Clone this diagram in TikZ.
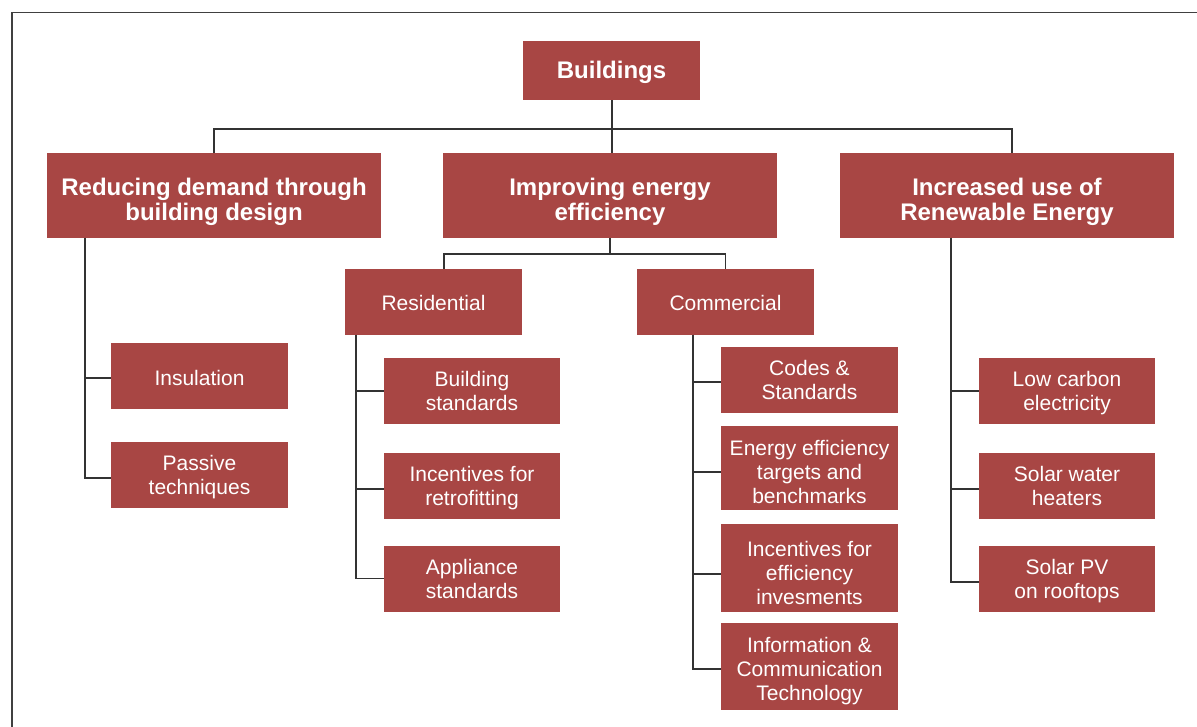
\documentclass[tikz,border=0pt]{standalone}
\usepackage{fontspec}
\setmainfont{Liberation Sans}
\definecolor{boxred}{HTML}{A84644}
\definecolor{linegray}{HTML}{333333}
\newcommand{\tx}[2]{\raisebox{-#1}[\height][\depth]{\begin{tabular}{@{}c@{}}#2\end{tabular}}}
\begin{document}
\begin{tikzpicture}[x=1pt,y=-1pt,
  box/.style={fill=boxred,draw=none,inner sep=0pt,text=white,
    font=\fontsize{21}{24}\selectfont},
  topbox/.style={box,font=\bfseries\fontsize{24}{23.7}\selectfont},
  conn/.style={draw=linegray,line width=1.3pt},
  frame/.style={draw=black!75,line width=1.6pt}]
\useasboundingbox (0,0) rectangle (1197,727);
\draw[frame] (1197,12.5) -- (12,12.5) -- (12,727);
% level 0
\node[topbox,minimum width=177pt,minimum height=59pt] (b0) at (611.5,70.5) {\tx{2.5pt}{Buildings}};
% level 1
\node[topbox,minimum width=334pt,minimum height=85pt] (r1) at (214,195.5) {\tx{7.3pt}{Reducing demand through\\building design}};
\node[topbox,minimum width=334pt,minimum height=85pt] (r2) at (610,195.5) {\tx{7.3pt}{Improving energy\\efficiency}};
\node[topbox,minimum width=334pt,minimum height=85pt] (r3) at (1007,195.5) {\tx{7.3pt}{Increased use of\\Renewable Energy}};
% level 2
\node[box,minimum width=177pt,minimum height=66pt] (res) at (433.5,302) {\tx{4.2pt}{Residential}};
\node[box,minimum width=177pt,minimum height=66pt] (com) at (725.5,302) {\tx{4.2pt}{Commercial}};
% reducing children
\node[box,minimum width=177pt,minimum height=66pt] (ins) at (199.5,376) {\tx{4.2pt}{Insulation}};
\node[box,minimum width=177pt,minimum height=66pt] (pas) at (199.5,475) {\tx{2.9pt}{Passive\\techniques}};
% residential children
\node[box,minimum width=176pt,minimum height=66pt] (bst) at (472,391) {\tx{2.9pt}{Building\\standards}};
\node[box,minimum width=176pt,minimum height=66pt] (inr) at (472,486) {\tx{2.9pt}{Incentives for\\retrofitting}};
\node[box,minimum width=176pt,minimum height=66pt] (app) at (472,578.5) {\tx{2.9pt}{Appliance\\standards}};
% commercial children
\node[box,minimum width=177pt,minimum height=66pt] (cod) at (809.5,380) {\tx{2.9pt}{Codes \&\\Standards}};
\node[box,minimum width=177pt,minimum height=84pt] (eet) at (809.5,468) {\tx{6.5pt}{Energy efficiency\\targets and\\benchmarks}};
\node[box,minimum width=177pt,minimum height=88pt] (ine) at (809.5,568) {\tx{7.9pt}{Incentives for\\efficiency\\invesments}};
\node[box,minimum width=177pt,minimum height=87pt] (ict) at (809.5,666.5) {\tx{5.4pt}{Information \&\\Communication\\Technology}};
% renewable children
\node[box,minimum width=176pt,minimum height=66pt] (lce) at (1067,391) {\tx{2.9pt}{Low carbon\\electricity}};
\node[box,minimum width=176pt,minimum height=66pt] (swh) at (1067,486) {\tx{2.9pt}{Solar water\\heaters}};
\node[box,minimum width=176pt,minimum height=66pt] (spv) at (1067,578.5) {\tx{2.9pt}{Solar PV\\on rooftops}};
% top bus
\coordinate (bus) at (612,129);
\coordinate (r3top) at (1012,153);
\draw[conn] (b0.south -| bus) -- (bus);
\draw[conn] (r1.north) |- (bus) -| (r3top);
\draw[conn] (bus) -- (bus |- r2.north);
% improving sub-bus
\coordinate (sub) at (610,254);
\coordinate (restop) at (444,269);
\draw[conn] (r2.south -| sub) -- (sub);
\draw[conn] (restop) |- (sub) -| (com.north);
% reducing spine
\coordinate (s1) at (85,238);
\draw[conn] (s1) |- ([yshift=-2pt]ins.west);
\draw[conn] (s1) |- ([yshift=-3pt]pas.west);
% residential spine
\coordinate (s2) at (356,335);
\draw[conn] (s2) |- (bst.west);
\draw[conn] (s2) |- ([yshift=-3pt]inr.west);
\draw[conn] (s2) |- (app.west);
% commercial spine
\coordinate (s3) at (693,335);
\draw[conn] (s3) |- ([yshift=-2pt]cod.west);
\draw[conn] (s3) |- ([yshift=-4pt]eet.west);
\draw[conn] (s3) |- ([yshift=-6pt]ine.west);
\draw[conn] (s3) |- ([yshift=-2.5pt]ict.west);
% renewable spine
\coordinate (s4) at (951,238);
\draw[conn] (s4) |- (lce.west);
\draw[conn] (s4) |- ([yshift=-3pt]swh.west);
\draw[conn] (s4) |- ([yshift=-3.5pt]spv.west);
\end{tikzpicture}
\end{document}
